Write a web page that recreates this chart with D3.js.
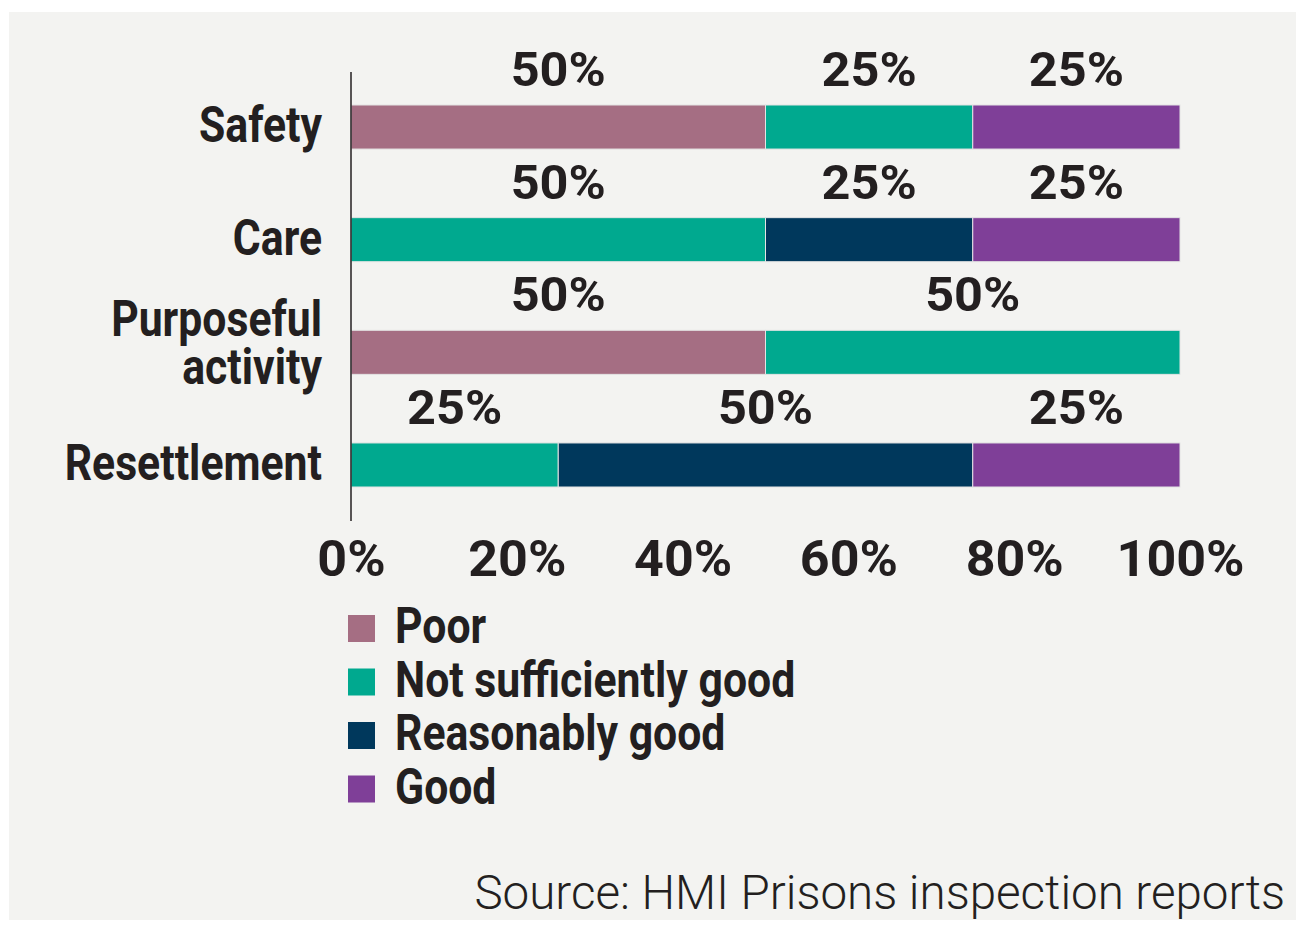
<!DOCTYPE html>
<html>
<head>
<meta charset="utf-8">
<script src="https://cdn.jsdelivr.net/npm/d3@7"></script>
<style>
html,body{margin:0;padding:0;background:#ffffff;}
svg{display:block;}
</style>
</head>
<body>
<svg id="chart" width="1296" height="927"></svg>
<script>
const categories = ["Safety", "Care", "Purposeful activity", "Resettlement"];
const categoryLines = [["Safety"], ["Care"], ["Purposeful", "activity"], ["Resettlement"]];
const seriesNames = ["Poor", "Not sufficiently good", "Reasonably good", "Good"];
const poor = [50, 0, 50, 0];
const notSufficientlyGood = [25, 50, 50, 25];
const reasonablyGood = [0, 25, 0, 50];
const good = [25, 25, 0, 25];
const seriesColors = ["#a56e83", "#00a98f", "#00385c", "#7f3f98"];
const tickValues = [0, 20, 40, 60, 80, 100];
const tickLabels = ["0%", "20%", "40%", "60%", "80%", "100%"];
const sourceText = "Source: HMI Prisons inspection reports";

const seriesValues = [poor, notSufficientlyGood, reasonablyGood, good];
const table = categories.map((c, i) => {
  const row = {category: c};
  seriesNames.forEach((s, j) => row[s] = seriesValues[j][i]);
  return row;
});
const stacked = d3.stack().keys(seriesNames)(table);

const svg = d3.select("#chart");
const ink = "#231f20";
const font = "Roboto,'Liberation Sans',sans-serif";
const squeeze = 0.855;

svg.append("rect").attr("x", 9).attr("y", 12).attr("width", 1287).attr("height", 908).attr("fill", "#f3f3f1");

const x = d3.scaleLinear().domain([0, 100]).range([351, 1180]);
const y = d3.scaleBand().domain(categories).range([105, 487]).paddingInner(0.609).paddingOuter(0);
const color = d3.scaleOrdinal().domain(seriesNames).range(seriesColors);

// bars
const layers = svg.append("g").selectAll("g").data(stacked).join("g").attr("fill", d => color(d.key));
layers.selectAll("rect").data(d => d.filter(p => p[1] - p[0] > 0)).join("rect")
  .attr("x", d => x(d[0]))
  .attr("y", d => y(d.data.category))
  .attr("width", d => x(d[1]) - x(d[0]))
  .attr("height", y.bandwidth())
  .attr("stroke", "#e4e4e4")
  .attr("stroke-width", 1);

// value labels
const labelG = svg.append("g");
stacked.forEach(layer => {
  layer.forEach(p => {
    const v = p[1] - p[0];
    if (v <= 0) return;
    labelG.append("text")
      .attr("transform", `translate(${x((p[0] + p[1]) / 2)},${y(p.data.category) - 19}) scale(1.05,1)`)
      .attr("text-anchor", "middle")
      .attr("font-family", font)
      .attr("font-weight", 700)
      .attr("font-size", 48)
      .attr("fill", ink)
      .text(v + "%");
  });
});

// y axis line
svg.append("line").attr("x1", 351).attr("x2", 351).attr("y1", 72).attr("y2", 521)
  .attr("stroke", ink).attr("stroke-width", 1.5);

// category labels
categories.forEach((c, i) => {
  const lines = categoryLines[i];
  const cy = y(c) + y.bandwidth() / 2;
  const base = lines.length === 1 ? [cy + 15] : [cy - 16, cy + 32];
  lines.forEach((l, k) => {
    svg.append("text")
      .attr("transform", `translate(322,${base[k]}) scale(${squeeze},1)`)
      .attr("text-anchor", "end")
      .attr("font-family", font)
      .attr("font-weight", 700)
      .attr("font-size", 50)
      .attr("fill", ink)
      .text(l);
  });
});

// x axis tick labels
const xAxis = d3.axisBottom(x).tickValues(tickValues).tickFormat((d, i) => tickLabels[i]).tickSize(0).tickPadding(0);
const gx = svg.append("g").attr("transform", "translate(0,540)").call(xAxis);
gx.select(".domain").remove();
gx.selectAll(".tick text")
  .attr("dy", null)
  .attr("y", 36)
  .attr("transform", "scale(1.04,1)")
  .attr("font-family", font)
  .attr("font-weight", 700)
  .attr("font-size", 50)
  .attr("fill", ink);

// legend
const legend = svg.append("g");
seriesNames.forEach((s, i) => {
  const top = 615 + i * 53.5;
  legend.append("rect").attr("x", 348).attr("y", top).attr("width", 27).attr("height", 27).attr("fill", color(s));
  legend.append("text")
    .attr("transform", `translate(395,${top + 28}) scale(${squeeze},1)`)
    .attr("font-family", font).attr("font-weight", 700).attr("font-size", 50)
    .attr("fill", ink).text(s);
});

// source
svg.append("text").attr("x", 1285).attr("y", 909).attr("text-anchor", "end")
  .attr("font-family", font).attr("font-weight", 300).attr("font-size", 47.5)
  .attr("fill", ink).text(sourceText);
</script>
</body>
</html>
